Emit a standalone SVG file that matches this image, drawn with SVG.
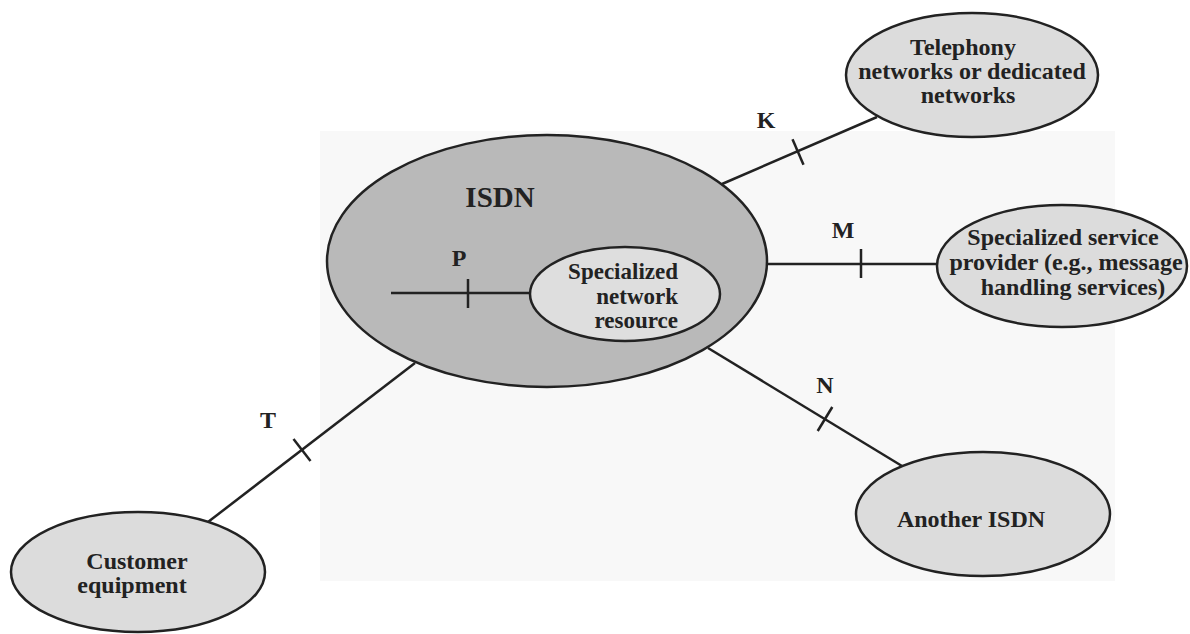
<svg xmlns="http://www.w3.org/2000/svg" width="1190" height="634" viewBox="0 0 1190 634">
<style>
.t{font-family:"Liberation Serif","Times New Roman",serif;font-weight:bold;fill:#222;text-anchor:middle}
.n{stroke:#222;stroke-width:2.5}
.c{stroke:#222;stroke-width:2.5;fill:none}
</style>
<rect x="0" y="0" width="1190" height="634" fill="#ffffff"/>
<rect x="320" y="131" width="795" height="450" fill="#f8f8f8"/>
<g id="connectors">
<line class="c" x1="722" y1="184" x2="877" y2="117"/>
<line class="c" x1="792.5" y1="139.2" x2="803.5" y2="164.8"/>
<line class="c" x1="767" y1="264" x2="938" y2="264"/>
<line class="c" x1="861" y1="249" x2="861" y2="278"/>
<line class="c" x1="708" y1="348" x2="902" y2="466"/>
<line class="c" x1="832.3" y1="407" x2="817.7" y2="431"/>
<line class="c" x1="415" y1="363" x2="208" y2="522"/>
<line class="c" x1="293.5" y1="438.9" x2="310.5" y2="461.1"/>
<text class="t" x="766" y="128" font-size="24">K</text>
<text class="t" x="843" y="238" font-size="24">M</text>
<text class="t" x="825" y="393" font-size="24">N</text>
<text class="t" x="268" y="428" font-size="24">T</text>
</g>
<g id="isdn">
<ellipse class="n" cx="547" cy="261" rx="220" ry="126" fill="#b9b9b9"/>
<text class="t" x="500" y="207" font-size="29">ISDN</text>
</g>
<g id="p-link">
<line class="c" x1="391" y1="293" x2="531" y2="293"/>
<line class="c" x1="468" y1="279" x2="468" y2="308"/>
<text class="t" x="459" y="266" font-size="24">P</text>
</g>
<g id="resource">
<ellipse class="n" cx="625" cy="294" rx="95" ry="47" fill="#dedede"/>
<text class="t" x="678" y="279" font-size="23" style="text-anchor:end">Specialized</text>
<text class="t" x="678" y="304" font-size="23" style="text-anchor:end">network</text>
<text class="t" x="678" y="328" font-size="23" style="text-anchor:end">resource</text>
</g>
<g id="telephony">
<ellipse class="n" cx="972" cy="75" rx="126" ry="62" fill="#dcdcdc"/>
<text class="t" x="963" y="55" font-size="24">Telephony</text>
<text class="t" x="972" y="79" font-size="24">networks or dedicated</text>
<text class="t" x="968" y="103" font-size="24">networks</text>
</g>
<g id="provider">
<ellipse class="n" cx="1062" cy="266" rx="125" ry="61" fill="#dcdcdc"/>
<text class="t" x="1063" y="245" font-size="24">Specialized service</text>
<text class="t" x="1066" y="270" font-size="24">provider (e.g., message</text>
<text class="t" x="1073" y="295" font-size="24">handling services)</text>
</g>
<g id="another">
<ellipse class="n" cx="983" cy="514" rx="127" ry="62" fill="#dcdcdc"/>
<text class="t" x="971" y="527" font-size="24">Another ISDN</text>
</g>
<g id="customer">
<ellipse class="n" cx="138" cy="572" rx="127" ry="60" fill="#dcdcdc"/>
<text class="t" x="137" y="569" font-size="24">Customer</text>
<text class="t" x="132" y="593" font-size="24">equipment</text>
</g>
</svg>
